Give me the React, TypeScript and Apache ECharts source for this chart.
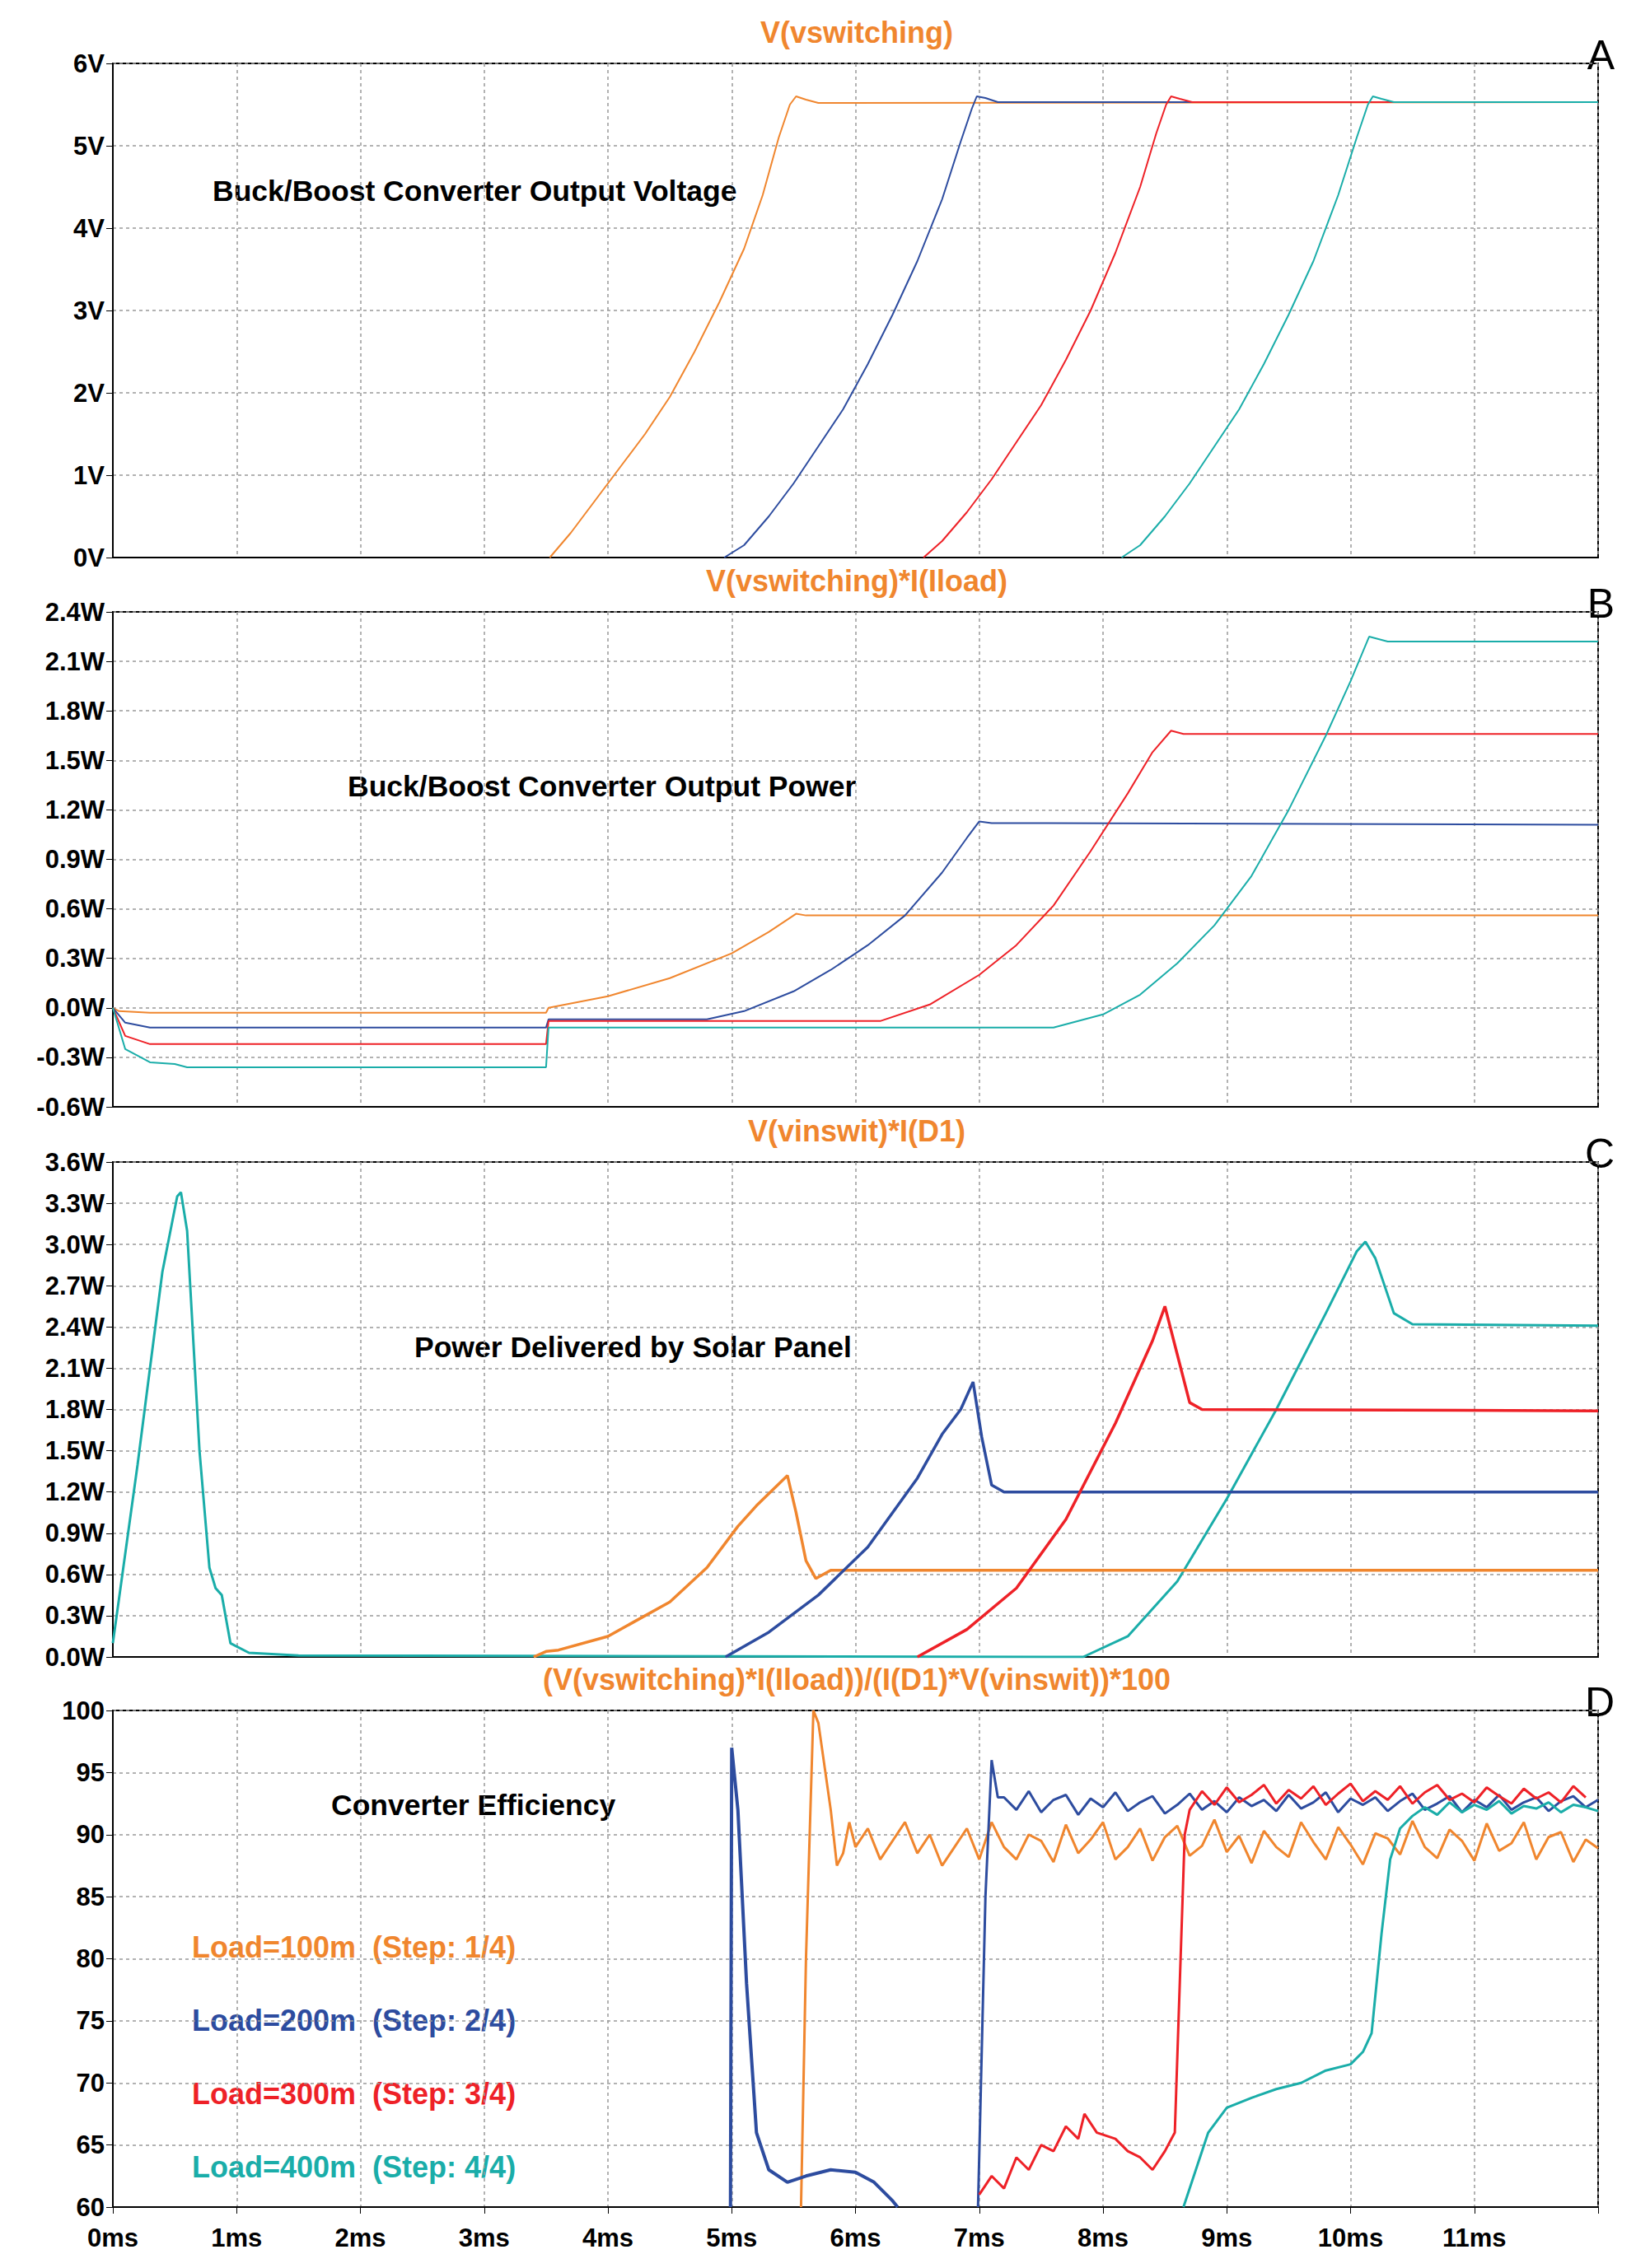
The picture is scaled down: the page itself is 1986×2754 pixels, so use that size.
import React, { useEffect, useRef } from "react";
import * as echarts from "echarts";

const C_OR = "#F0862E", C_BL = "#2D4C9F", C_RD = "#EE2127", C_TE = "#1AADA9";

// Panel A: output voltage [ms, V]
const aOrange = [[3.53,0],[3.7,0.3],[3.9,0.7],[4.1,1.1],[4.3,1.5],[4.5,1.95],[4.7,2.5],[4.9,3.1],[5.1,3.75],[5.25,4.4],[5.38,5.1],[5.47,5.5],[5.52,5.6],[5.6,5.56],[5.7,5.52],[12,5.53]];
const aBlue = [[4.94,0],[5.1,0.15],[5.3,0.5],[5.5,0.9],[5.7,1.35],[5.9,1.8],[6.1,2.35],[6.3,2.95],[6.5,3.6],[6.7,4.35],[6.85,5.05],[6.94,5.45],[6.98,5.6],[7.05,5.58],[7.15,5.53],[12,5.53]];
const aRed = [[6.55,0],[6.7,0.2],[6.9,0.55],[7.1,0.95],[7.3,1.4],[7.5,1.85],[7.7,2.4],[7.9,3.0],[8.1,3.7],[8.3,4.5],[8.43,5.15],[8.51,5.5],[8.55,5.6],[8.62,5.57],[8.72,5.53],[12,5.53]];
const aTeal = [[8.15,0],[8.3,0.15],[8.5,0.5],[8.7,0.9],[8.9,1.35],[9.1,1.8],[9.3,2.35],[9.5,2.95],[9.7,3.6],[9.9,4.4],[10.05,5.1],[10.14,5.5],[10.18,5.6],[10.25,5.57],[10.35,5.53],[12,5.53]];

// Panel B: output power [ms, W]
const bOrange = [[0,0],[0.05,-0.02],[0.3,-0.03],[3.5,-0.03],[3.52,0.0],[4,0.07],[4.5,0.18],[5,0.33],[5.3,0.46],[5.52,0.57],[5.6,0.56],[12,0.56]];
const bBlue = [[0,0],[0.1,-0.09],[0.3,-0.12],[3.5,-0.12],[3.52,-0.07],[4.8,-0.07],[5.1,-0.02],[5.5,0.1],[5.8,0.23],[6.1,0.38],[6.4,0.56],[6.7,0.82],[6.9,1.03],[7.0,1.13],[7.1,1.12],[12,1.11]];
const bRed = [[0,0],[0.1,-0.17],[0.3,-0.22],[3.5,-0.22],[3.52,-0.08],[6.2,-0.08],[6.6,0.02],[7,0.2],[7.3,0.38],[7.6,0.62],[7.9,0.95],[8.2,1.3],[8.4,1.55],[8.55,1.68],[8.65,1.66],[12,1.66]];
const bTeal = [[0,0],[0.1,-0.25],[0.3,-0.33],[0.5,-0.34],[0.6,-0.36],[3.5,-0.36],[3.52,-0.12],[7.6,-0.12],[8.0,-0.04],[8.3,0.08],[8.6,0.27],[8.9,0.5],[9.2,0.8],[9.5,1.2],[9.8,1.65],[10.0,1.98],[10.15,2.25],[10.3,2.22],[12,2.22]];

// Panel C: solar power [ms, W]
const cTeal = [[0,0.1],[0.2,1.4],[0.4,2.8],[0.52,3.35],[0.55,3.38],[0.6,3.1],[0.7,1.5],[0.78,0.65],[0.83,0.5],[0.88,0.45],[0.95,0.1],[1.1,0.03],[1.5,0.01],[7.84,0],[8.2,0.15],[8.6,0.55],[9,1.15],[9.4,1.8],[9.8,2.5],[10.05,2.95],[10.12,3.02],[10.2,2.9],[10.35,2.5],[10.5,2.42],[12,2.41]];
const cOrange = [[3.4,0],[3.5,0.04],[3.6,0.05],[4,0.15],[4.5,0.4],[4.8,0.65],[5.05,0.95],[5.2,1.1],[5.45,1.32],[5.52,1.05],[5.6,0.7],[5.68,0.57],[5.8,0.63],[12,0.63]];
const cBlue = [[4.95,0],[5.3,0.18],[5.7,0.45],[6.1,0.8],[6.5,1.3],[6.7,1.62],[6.85,1.8],[6.95,2.0],[7.02,1.6],[7.1,1.25],[7.2,1.2],[12,1.2]];
const cRed = [[6.5,0],[6.9,0.2],[7.3,0.5],[7.7,1.0],[8.1,1.7],[8.4,2.3],[8.5,2.55],[8.6,2.2],[8.7,1.85],[8.8,1.8],[12,1.79]];

// Panel D: efficiency [ms, %]
const dOrangeHead = [[5.56,60],[5.6,80],[5.66,100],[5.7,99],[5.8,92],[5.85,87.5],[5.9,88.5],[5.95,91]];
const dOrangeStart = 6.0;
const dOrangeNoise = [89,90.5,88,89.5,91,88.5,90,87.5,89,90.5,88,91,89,88,90,89.5,87.8,90.8,88.5,89.6,91,88,89,90.5,87.9,89.8,90.7,88.3,89.1,91.2,88.6,89.9,87.7,90.3,89,88.2,91,89.4,88,90.6,89.2,87.6,90.1,89.7,88.4,91.1,89,88.1,90.4,89.5,87.9,90.9,88.7,89.3,91,88,89.8,90.2,87.8,89.6,88.9];
const dBlueHead = [[4.99,60],[5.0,97],[5.05,92],[5.12,78],[5.2,66],[5.3,63],[5.45,62],[5.6,62.5],[5.8,63],[6.0,62.8],[6.15,62],[6.3,60.5],[6.34,60]];
const dBlueMid = [[6.99,60],[7.05,85],[7.1,96],[7.15,93]];
const dBlueStart = 7.2;
const dBlueNoise = [93,92,93.5,91.8,92.8,93.2,91.6,92.9,92.2,93.4,91.9,92.6,93.1,91.7,92.4,93.3,92,92.7,91.8,93,92.3,92.8,91.9,93.2,92.1,92.6,93.4,91.8,92.9,92.4,93,91.9,92.7,93.3,92,92.5,93.1,91.8,92.8,92.2,93.2,92,92.6,93,91.9,92.7,93.1,92.2,92.8];
const dRedHead = [[7.0,61],[7.1,62.5],[7.2,61.5],[7.3,64],[7.4,63],[7.5,65],[7.6,64.5],[7.7,66.5],[7.8,65.5],[7.85,67.5],[7.95,66],[8.1,65.5],[8.2,64.5],[8.3,64],[8.4,63],[8.5,64.5],[8.58,66],[8.62,78],[8.66,90],[8.7,92]];
const dRedStart = 8.8;
const dRedNoise = [93.5,92.4,93.8,92.6,93.2,94,92.5,93.6,92.9,93.9,92.4,93.3,94.1,92.7,93.5,92.8,93.9,92.5,93.4,94,92.8,93.3,92.6,93.8,93.1,92.5,93.7,92.9,93.4,92.6,93.9,93];
const dTealHead = [[8.65,60],[8.75,63],[8.85,66],[9.0,68],[9.2,68.8],[9.4,69.5],[9.6,70],[9.8,71],[10.0,71.5],[10.1,72.5],[10.17,74],[10.25,82],[10.32,88],[10.4,90.5],[10.5,91.5]];
const dTealStart = 10.6;
const dTealNoise = [92.2,91.6,92.6,91.8,92.4,92,92.7,91.7,92.3,92.1,92.6,91.8,92.4,92.2,91.9];

const noisy = (start: number, vals: number[]) => vals.map((v, i) => [+(start + i * 0.1).toFixed(2), v]);

const W = 1986, H = 2754;
const LEFT = 137, RIGHT = 46;
const grids = [
  { top: 77, height: 600 },
  { top: 743, height: 601 },
  { top: 1411, height: 601 },
  { top: 2077, height: 603 },
];
const titles = ["V(vswitching)", "V(vswitching)*I(Iload)", "V(vinswit)*I(D1)", "(V(vswitching)*I(Iload))/(I(D1)*V(vinswit))*100"];
const letters = ["A", "B", "C", "D"];
const yConf = [
  { min: 0, max: 6, interval: 1, fmt: (v: number) => v + "V" },
  { min: -0.6, max: 2.4, interval: 0.3, fmt: (v: number) => v.toFixed(1) + "W" },
  { min: 0, max: 3.6, interval: 0.3, fmt: (v: number) => v.toFixed(1) + "W" },
  { min: 60, max: 100, interval: 5, fmt: (v: number) => String(v) },
];
const notes = [
  { text: "Buck/Boost Converter Output Voltage", x: 258, y: 232 },
  { text: "Buck/Boost Converter Output Power", x: 422, y: 955 },
  { text: "Power Delivered by Solar Panel", x: 503, y: 1636 },
  { text: "Converter Efficiency", x: 402, y: 2192 },
];
const legend = [
  { text: "Load=100m  (Step: 1/4)", color: C_OR },
  { text: "Load=200m  (Step: 2/4)", color: C_BL },
  { text: "Load=300m  (Step: 3/4)", color: C_RD },
  { text: "Load=400m  (Step: 4/4)", color: C_TE },
];

const FONT = "Liberation Sans";

export default function App() {
  const ref = useRef<HTMLDivElement>(null);
  useEffect(() => {
    document.body.style.margin = "0";
    const chart = echarts.init(ref.current!, null, { renderer: "svg" });
    const line = (g: number, data: any[], color: string, w: number) => ({
      type: "line", xAxisIndex: g, yAxisIndex: g, data, showSymbol: false, symbol: "none",
      lineStyle: { color, width: w }, clip: true,
    });
    const series: any[] = [
      line(0, aOrange, C_OR, 2), line(0, aBlue, C_BL, 2), line(0, aRed, C_RD, 2), line(0, aTeal, C_TE, 2),
      line(1, bOrange, C_OR, 2), line(1, bBlue, C_BL, 2), line(1, bRed, C_RD, 2), line(1, bTeal, C_TE, 2),
      line(2, cTeal, C_TE, 3), line(2, cOrange, C_OR, 3.5), line(2, cBlue, C_BL, 3.5), line(2, cRed, C_RD, 3.5),
      line(3, [...dOrangeHead, ...noisy(dOrangeStart, dOrangeNoise)], C_OR, 3),
      line(3, dBlueHead, C_BL, 4),
      line(3, [...dBlueMid, ...noisy(dBlueStart, dBlueNoise)], C_BL, 3),
      line(3, [...dRedHead, ...noisy(dRedStart, dRedNoise)], C_RD, 3),
      line(3, [...dTealHead, ...noisy(dTealStart, dTealNoise)], C_TE, 3),
    ];
    const graphic: any[] = [];
    grids.forEach((g, i) => {
      graphic.push({ type: "text", x: 1040, y: g.top - 38, style: { text: titles[i], fill: C_OR, font: `bold 36px ${FONT}`, textAlign: "center", textVerticalAlign: "middle" } });
      graphic.push({ type: "text", x: 1960, y: g.top - 10, style: { text: letters[i], fill: "#000", font: `50px ${FONT}`, textAlign: "right", textVerticalAlign: "middle" } });
      graphic.push({ type: "text", x: notes[i].x, y: notes[i].y, style: { text: notes[i].text, fill: "#000", font: `bold 35.5px ${FONT}`, textVerticalAlign: "middle" } });
    });
    legend.forEach((l, i) => {
      graphic.push({ type: "text", x: 233, y: 2364 + i * 89, style: { text: l.text, fill: l.color, font: `bold 36px ${FONT}`, textVerticalAlign: "middle" } });
    });
    chart.setOption({
      animation: false,
      backgroundColor: "#fff",
      grid: grids.map((g) => ({ left: LEFT, right: RIGHT, top: g.top, height: g.height, show: true, borderColor: "#000", borderWidth: 2, backgroundColor: "transparent" })),
      xAxis: grids.map((_, i) => ({
        type: "value", gridIndex: i, min: 0, max: 12, interval: 1,
        axisLine: { show: true, onZero: false, lineStyle: { color: "#000", width: 2 } },
        axisTick: { show: i === 3, length: 8, lineStyle: { color: "#000" } },
        axisLabel: { show: i === 3, formatter: (v: number) => (v >= 12 ? "" : v + "ms"), color: "#000", fontFamily: FONT, fontWeight: "bold", fontSize: 31, margin: 22 },
        splitLine: { show: true, lineStyle: { color: "#999", type: [4, 4], width: 1.5 } },
      })),
      yAxis: yConf.map((y, i) => ({
        type: "value", gridIndex: i, min: y.min, max: y.max, interval: y.interval,
        axisLine: { show: true, onZero: false, lineStyle: { color: "#000", width: 2 } },
        axisTick: { show: true, length: 8, lineStyle: { color: "#000" } },
        axisLabel: { formatter: y.fmt, color: "#000", fontFamily: FONT, fontWeight: "bold", fontSize: 31, margin: 10 },
        splitLine: { show: true, lineStyle: { color: "#999", type: [4, 4], width: 1.5 } },
      })),
      series,
      graphic,
    });
    return () => chart.dispose();
  }, []);
  return <div ref={ref} style={{ width: W, height: H }} />;
}
